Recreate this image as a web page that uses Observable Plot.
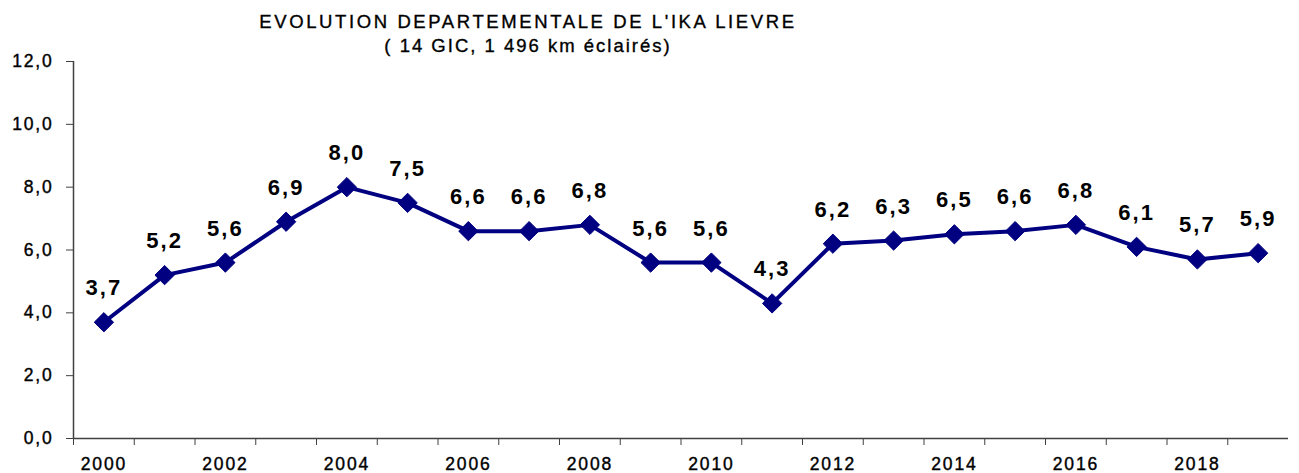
<!DOCTYPE html>
<html>
<head>
<meta charset="utf-8">
<script src="https://cdn.jsdelivr.net/npm/d3@7"></script>
<script src="https://cdn.jsdelivr.net/npm/@observablehq/plot@0.6"></script>
<style>
  html, body { margin: 0; padding: 0; background: #fff; }
  #wrap { position: relative; width: 1299px; height: 473px; overflow: hidden; }
  #title {
    position: absolute; left: 0; top: 10px; width: 1056px;
    text-align: center; font-family: "Liberation Sans", Arial, sans-serif;
    font-size: 18.5px; line-height: 24px; color: #000;
    -webkit-text-stroke: 0.35px #000;
  }
  #title .l1 { letter-spacing: 2.6px; }
  #title .l2 { letter-spacing: 2px; }
  svg g[aria-label="text"] text { letter-spacing: 2px; }
  svg g[aria-label="x-axis tick label"] text,
  svg g[aria-label="y-axis tick label"] text { letter-spacing: 1.8px; stroke: #000; stroke-width: 0.4px; }
</style>
</head>
<body>
<div id="wrap">
  <div id="title"><span class="l1">EVOLUTION DEPARTEMENTALE DE L'IKA LIEVRE</span><br><span class="l2">( 14 GIC, 1 496 km éclairés)</span></div>
</div>
<script>
const years = [2000, 2001, 2002, 2003, 2004, 2005, 2006, 2007, 2008, 2009,
               2010, 2011, 2012, 2013, 2014, 2015, 2016, 2017, 2018, 2019];
const ika = [3.7, 5.2, 5.6, 6.9, 8.0, 7.5, 6.6, 6.6, 6.8, 5.6,
             5.6, 4.3, 6.2, 6.3, 6.5, 6.6, 6.8, 6.1, 5.7, 5.9];
const yTicks = [0, 2, 4, 6, 8, 10, 12];
const xLabelYears = [2000, 2002, 2004, 2006, 2008, 2010, 2012, 2014, 2016, 2018];

const data = years.map((yr, i) => ({year: yr, ika: ika[i]}));
const xDomain = [years[0] - 0.5, years[years.length - 1] + 0.5];
const edgeTicks = [xDomain[0], ...years.slice(0, -1).map(y => y + 0.5)];
const fmt = v => v.toFixed(1).replace(".", ",");
const axisColor = "#404040";
const navy = "#000080";

const chart = Plot.plot({
  width: 1299,
  height: 473,
  marginLeft: 73,
  marginRight: 11,
  marginTop: 61,
  marginBottom: 35,
  style: {fontFamily: "'Liberation Sans', Arial, sans-serif", fontSize: "17px", color: "#000", background: "#fff", overflow: "visible"},
  x: {type: "linear", domain: xDomain},
  y: {domain: [0, 12]},
  marks: [
    Plot.ruleX([xDomain[0]], {stroke: axisColor, strokeWidth: 1.5}),
    Plot.ruleY([0], {stroke: axisColor, strokeWidth: 1.5}),
    Plot.axisY({ticks: yTicks, tickFormat: fmt, tickSize: 7, tickPadding: 13, label: null, stroke: axisColor, fill: "#000", fontSize: 17.5}),
    Plot.axisX({ticks: edgeTicks, tickSize: 7, tickFormat: () => "", label: null, stroke: axisColor}),
    Plot.axisX({ticks: xLabelYears, tickSize: 0, tickPadding: 19, tickFormat: d => String(d), label: null, fill: "#000", fontSize: 17.5}),
    Plot.line(data, {x: "year", y: "ika", stroke: navy, strokeWidth: 4}),
    Plot.dot(data, {x: "year", y: "ika", symbol: "diamond2", r: 8.7, fill: navy, stroke: navy, strokeWidth: 1}),
    Plot.text(data, {x: "year", y: "ika", text: d => fmt(d.ika), dy: -34, fontSize: 22, fontWeight: "bold", fill: "#000"})
  ]
});
chart.style.position = "absolute";
chart.style.left = "0px";
chart.style.top = "0px";
document.getElementById("wrap").prepend(chart);
</script>
</body>
</html>
